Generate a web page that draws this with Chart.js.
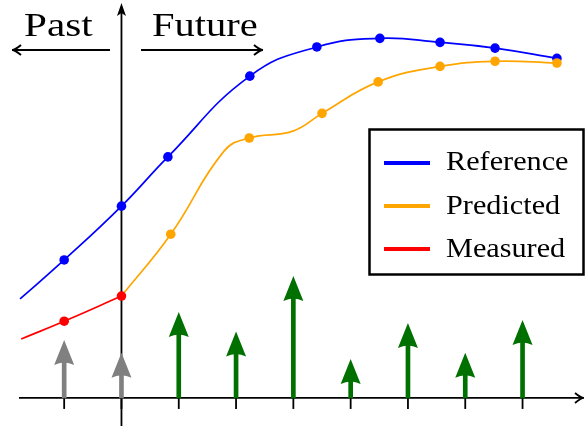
<!DOCTYPE html>
<html>
<head>
<meta charset="utf-8">
<script src="https://cdn.jsdelivr.net/npm/chart.js@4.4.1/dist/chart.umd.min.js"></script>
<style>
  html, body { margin: 0; padding: 0; background: #fff; }
</style>
</head>
<body>
<canvas id="mpc" width="585" height="426"></canvas>
<script>
// values, x in time steps k, y in the same units
const refX = [-1.77, -1.0, 0, 0.81, 2.24, 3.41, 4.51, 5.56, 6.52, 7.6];
const refY = [1.73, 2.41, 3.35, 4.21, 5.62, 6.13, 6.28, 6.21, 6.11, 5.93];
const measX = [-1.75, -1.0, 0];
const measY = [1.03, 1.34, 1.78];
const predX = [0, 0.86, 1.79, 2.23, 2.99, 3.5, 4.48, 5.56, 6.52, 7.6];
const predY = [1.78, 2.86, 4.31, 4.54, 4.66, 4.97, 5.52, 5.79, 5.88, 5.85];
const predMarks = [0, 1, 0, 1, 0, 1, 1, 1, 1, 1];
const stepX = [-1, 0, 1, 2, 3, 4, 5, 6, 7];
const inputs = [1.01, 0.79, 1.5, 1.16, 2.13, 0.68, 1.31, 0.79, 1.36];
const legendLabels = ['Reference', 'Predicted', 'Measured'];
const legendColors = ['#0000ff', '#ffa500', '#ff0000'];

const GRAY = '#808080';
const GREEN = '#007000';
const SERIF = '"Liberation Serif", "Times New Roman", serif';
const HEAD_LEN = 25, HEAD_HALF = 10;
const DOT = 4.8;

function pts(xs, ys) {
    return xs.map((x, i) => ({ x: x, y: ys[i] }));
}

function stretchedText(ctx, txt, x, y, size, sx) {
    ctx.save();
    ctx.font = size + 'px ' + SERIF;
    ctx.fillStyle = '#000';
    ctx.textBaseline = 'alphabetic';
    ctx.translate(x, y);
    ctx.scale(sx, 1);
    ctx.fillText(txt, 0, 0);
    ctx.restore();
}

// open "->" style tip
function openTip(ctx, x, y, dx, dy) {
    const len = 9, half = 5;
    const px = -dy, py = dx;
    ctx.beginPath();
    ctx.moveTo(x - dx * len + px * half, y - dy * len + py * half);
    ctx.quadraticCurveTo(x - dx * 3, y - dy * 3, x, y);
    ctx.quadraticCurveTo(x - dx * 3, y - dy * 3, x - dx * len - px * half, y - dy * len - py * half);
    ctx.stroke();
}

const overlay = {
    id: 'overlay',
    afterDatasetUpdate(chart, args) {
        // stems stop inside the arrow head
        if (chart.data.datasets[args.index].type !== 'bar') return;
        args.meta.data.forEach(bar => { bar.y = bar.y + HEAD_LEN - 6; });
    },
    beforeDatasetsDraw(chart) {
        const ctx = chart.ctx;
        const xs = chart.scales.x, ys = chart.scales.y;
        const y0 = ys.getPixelForValue(0);
        const x0 = xs.getPixelForValue(0);
        ctx.save();
        ctx.strokeStyle = '#000';
        ctx.fillStyle = '#000';
        ctx.lineWidth = 1.8;
        // time axis
        ctx.beginPath();
        ctx.moveTo(19, y0);
        ctx.lineTo(583, y0);
        ctx.stroke();
        openTip(ctx, 584, y0, 1, 0);
        stepX.forEach(k => {
            const px = xs.getPixelForValue(k);
            ctx.beginPath();
            ctx.moveTo(px, y0);
            ctx.lineTo(px, y0 + 11);
            ctx.stroke();
        });
        // "now" axis
        ctx.beginPath();
        ctx.moveTo(x0, 426);
        ctx.lineTo(x0, 10);
        ctx.stroke();
        ctx.beginPath();
        ctx.moveTo(x0, 3);
        ctx.lineTo(x0 + 4.5, 16);
        ctx.lineTo(x0, 13);
        ctx.lineTo(x0 - 4.5, 16);
        ctx.closePath();
        ctx.fill();
        // past / future arrows
        ctx.lineWidth = 2;
        ctx.beginPath();
        ctx.moveTo(110, 50);
        ctx.lineTo(13, 50);
        ctx.moveTo(141, 50);
        ctx.lineTo(262, 50);
        ctx.stroke();
        openTip(ctx, 12, 50, -1, 0);
        openTip(ctx, 263, 50, 1, 0);
        ctx.restore();
        stretchedText(ctx, 'Past', 24, 36, 34, 1.21);
        stretchedText(ctx, 'Future', 152, 36, 34, 1.19);
    },
    afterDatasetsDraw(chart) {
        const ctx = chart.ctx;
        const xs = chart.scales.x, ys = chart.scales.y;
        // arrow heads of the inputs
        ctx.save();
        stepX.forEach((k, i) => {
            const px = xs.getPixelForValue(k);
            const tip = ys.getPixelForValue(inputs[i]);
            ctx.fillStyle = k <= 0 ? GRAY : GREEN;
            ctx.beginPath();
            ctx.moveTo(px, tip);
            ctx.lineTo(px + HEAD_HALF, tip + HEAD_LEN);
            ctx.quadraticCurveTo(px, tip + HEAD_LEN - 5, px - HEAD_HALF, tip + HEAD_LEN);
            ctx.closePath();
            ctx.fill();
        });
        // legend box
        ctx.strokeStyle = '#000';
        ctx.lineWidth = 2.5;
        ctx.strokeRect(369.5, 129.5, 214, 145);
        legendLabels.forEach((lab, i) => {
            const ly = 163 + i * 43;
            ctx.strokeStyle = legendColors[i];
            ctx.lineWidth = 4;
            ctx.beginPath();
            ctx.moveTo(384, ly);
            ctx.lineTo(430, ly);
            ctx.stroke();
            stretchedText(ctx, lab, 446, ly + 7 + i * 0.5, 28, 1.08);
        });
        ctx.restore();
    }
};

const lineStyle = (color) => ({
    borderColor: color,
    backgroundColor: color,
    pointBorderWidth: 0,
    borderWidth: 1.7,
    tension: 0.45,
    clip: false
});

new Chart(document.getElementById('mpc'), {
    type: 'line',
    data: {
        datasets: [
            Object.assign({
                label: 'Reference',
                data: pts(refX, refY),
                pointRadius: refX.map((x, i) => i === 0 ? 0 : DOT),
                order: 3
            }, lineStyle('#0000ff')),
            Object.assign({
                label: 'Predicted',
                data: pts(predX, predY),
                pointRadius: predMarks.map(m => m ? DOT : 0),
                order: 2
            }, lineStyle('#ffa500')),
            Object.assign({
                label: 'Measured',
                data: pts(measX, measY),
                pointRadius: measX.map((x, i) => i === 0 ? 0 : DOT),
                order: 1
            }, lineStyle('#ff0000')),
            {
                type: 'bar',
                label: 'Input',
                data: pts(stepX, inputs),
                backgroundColor: stepX.map(k => k <= 0 ? GRAY : GREEN),
                barThickness: 4,
                grouped: false,
                order: 4
            }
        ]
    },
    options: {
        responsive: false,
        animation: false,
        events: [],
        layout: { padding: 0, autoPadding: false },
        plugins: {
            legend: { display: false },
            tooltip: { enabled: false }
        },
        scales: {
            x: { type: 'linear', min: -2.12, max: 8.09, offset: false, display: false },
            y: { type: 'linear', min: -0.49, max: 6.95, display: false }
        }
    },
    plugins: [overlay]
});
</script>
</body>
</html>
